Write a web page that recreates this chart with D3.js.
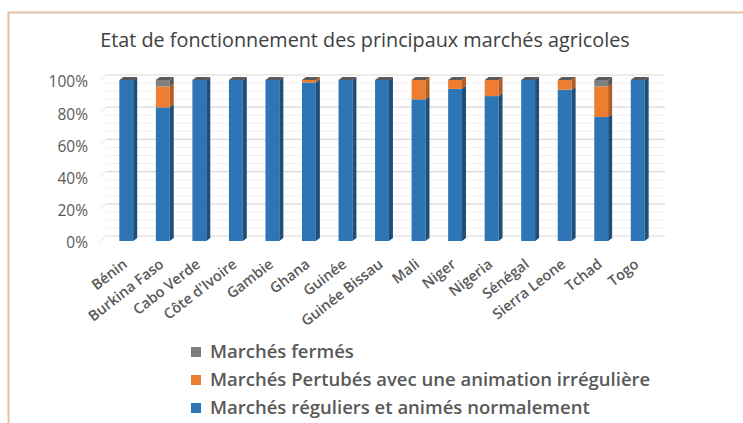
<!DOCTYPE html>
<html><head><meta charset="utf-8">
<script src="https://cdn.jsdelivr.net/npm/d3@7"></script>
<style>html,body{margin:0;padding:0;background:#fff;}svg{display:block;}</style>
</head><body>
<svg id="c" width="743" height="423"></svg>
<script>
const title = "Etat de fonctionnement des principaux marchés agricoles";
const categories = ["Bénin","Burkina Faso","Cabo Verde","Côte d'Ivoire","Gambie","Ghana","Guinée","Guinée Bissau","Mali","Niger","Nigeria","Sénégal","Sierra Leone","Tchad","Togo"];
const seriesNames = ["Marchés réguliers et animés normalement","Marchés Pertubés avec une animation irrégulière","Marchés fermés"];
const reguliers = [100, 83, 100, 100, 100, 98.5, 100, 100, 88, 94.5, 90, 100, 94, 77, 100];
const perturbes = [0, 13, 0, 0, 0, 1.5, 0, 0, 12, 5.5, 10, 0, 6, 19, 0];
const fermes    = [0, 4, 0, 0, 0, 0, 0, 0, 0, 0, 0, 0, 0, 4, 0];
const yTicks = [0, 20, 40, 60, 80, 100];

const colors = ["#2e75b6", "#ed7d31", "#7f7f7f"];
const sideColors = ["#1f4e79", "#b45d22", "#555555"];
const topColors = ["#3a6ea3", "#c9692a", "#5a5a5a"];

const svg = d3.select("#c");
const font = "'Open Sans', Lato, sans-serif";

// border
svg.append("path").attr("d","M8.5,430 L8.5,12.5 L750,12.5").attr("fill","none").attr("stroke","#e2c2a4").attr("stroke-width",2);

svg.append("text").attr("x", 365).attr("y", 47).attr("text-anchor","middle")
  .attr("font-family", font).attr("font-size", 19.8).attr("fill","#404040").text(title);

const x = d3.scaleBand().domain(categories).range([108, 656]).paddingInner(0.62).paddingOuter(0.31);
const y = d3.scaleLinear().domain([0, 100]).range([241, 80]);
const dx = 4, dy = 3, back = 5;

// gridlines (back wall) and left wall diagonals
const g = svg.append("g");
d3.range(0, 100, 5).filter(v => v % 20 !== 0).forEach(t => {
  g.append("line").attr("x1", 106).attr("x2", 665).attr("y1", y(t) - back).attr("y2", y(t) - back)
    .attr("stroke", "#f0f0f0").attr("stroke-width", 1);
});
yTicks.forEach(t => {
  g.append("line").attr("x1", 106).attr("x2", 665).attr("y1", y(t) - back).attr("y2", y(t) - back)
    .attr("stroke", "#d9d9d9").attr("stroke-width", 1.2);
  g.append("line").attr("x1", 100).attr("x2", 106).attr("y1", y(t) + 1).attr("y2", y(t) - back)
    .attr("stroke", "#e3e3e3").attr("stroke-width", 1);
});

// y axis labels
const yAxis = d3.axisLeft(y).tickValues(yTicks).tickFormat(d => d + "%").tickSize(0).tickPadding(0);
const ya = svg.append("g").attr("transform", "translate(88,2)").call(yAxis);
ya.select(".domain").remove();
ya.selectAll("text").attr("font-family", font).attr("font-size", 15.5).attr("fill", "#595959");

// stacked 3D bars
const data = categories.map((c, i) => ({cat: c, vals: [reguliers[i], perturbes[i], fermes[i]]}));
const bars = svg.append("g");
data.forEach(d => {
  let cum = 0;
  const x0 = x(d.cat), w = x.bandwidth();
  d.vals.forEach((v, s) => {
    const yb = y(cum), yt = y(cum + v);
    cum += v;
    if (v > 0) {
      bars.append("rect").attr("x", x0).attr("y", yt).attr("width", w).attr("height", yb - yt).attr("fill", colors[s]);
      bars.append("path").attr("d", `M${x0+w},${yb} L${x0+w+dx},${yb-dy} L${x0+w+dx},${yt-dy} L${x0+w},${yt} Z`).attr("fill", sideColors[s]);
    }
  });
  const yt = y(cum);
  bars.append("path").attr("d", `M${x0},${yt} L${x0+w},${yt} L${x0+w+dx},${yt-dy} L${x0+dx},${yt-dy} Z`).attr("fill", topColors[2]);
});

// x labels
const xa = svg.append("g");
categories.forEach(c => {
  const cx = x(c) + x.bandwidth() / 2 + 2;
  xa.append("text").attr("transform", `translate(${cx},266) rotate(-38)`).attr("text-anchor", "end")
    .attr("font-family", font).attr("font-size", 14.5).attr("font-weight", 600)
    .attr("fill", "#595959").text(c);
});

// legend
const legendOrder = [2, 1, 0];
legendOrder.forEach((s, i) => {
  const ly = 352 + i * 28;
  svg.append("rect").attr("x", 191).attr("y", ly - 5).attr("width", 10).attr("height", 10).attr("fill", colors[s]);
  svg.append("text").attr("x", 210).attr("y", ly).attr("dy", "0.35em").attr("font-family", font)
    .attr("font-size", 18.5).attr("font-weight", 600).attr("fill", "#595959").text(seriesNames[s]);
});
</script>
</body></html>
